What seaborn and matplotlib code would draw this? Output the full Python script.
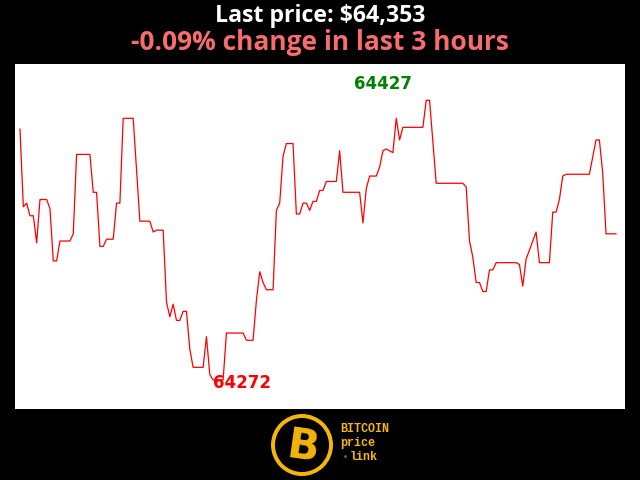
import matplotlib
matplotlib.use("Agg")
import matplotlib.pyplot as plt
import seaborn as sns
import pandas as pd
from matplotlib.patches import Circle

# ---- data (minute index, BTC price) ----
minutes = [0, 1, 2, 3, 4, 5, 6, 8, 9, 10, 11, 12, 15, 16, 17, 21, 22, 23, 24, 25,
           26, 28, 29, 30, 31, 34, 36, 39, 40, 41, 43, 44, 45, 46, 47, 48, 49, 50, 51, 52,
           55, 56, 57, 58, 61, 62, 67, 68, 70, 71, 72, 73, 74, 76, 77, 78, 79, 80, 82, 83,
           84, 85, 86, 87, 88, 89, 90, 91, 92, 95, 96, 97, 102, 103, 104, 105, 107, 108, 109, 110,
           112, 113, 114, 115, 121, 122, 123, 125, 133, 134, 135, 136, 137, 138, 139, 140, 141, 142, 143, 149,
           150, 151, 152, 153, 155, 156, 159, 160, 161, 162, 163, 164, 171, 173, 174, 175, 176, 179]
prices = [64411, 64368, 64370, 64363, 64363, 64348, 64372, 64372, 64367, 64338, 64338, 64349, 64349, 64353, 64397, 64397, 64376, 64376, 64346, 64346,
          64350, 64350, 64370, 64370, 64417, 64417, 64360, 64360, 64354, 64355, 64355, 64315, 64307, 64314, 64305, 64305, 64310, 64310, 64289, 64279,
          64279, 64296, 64275, 64272, 64272, 64298, 64298, 64294, 64294, 64316, 64332, 64326, 64322, 64322, 64366, 64370, 64396, 64403, 64403, 64364,
          64364, 64370, 64370, 64366, 64371, 64371, 64377, 64377, 64382, 64382, 64399, 64376, 64376, 64359, 64378, 64385, 64385, 64390, 64399, 64400,
          64398, 64417, 64405, 64412, 64412, 64427, 64427, 64381, 64381, 64379, 64349, 64340, 64326, 64326, 64321, 64321, 64333, 64333, 64337, 64337,
          64336, 64324, 64339, 64344, 64354, 64337, 64337, 64365, 64365, 64372, 64385, 64386, 64386, 64405, 64405, 64387, 64353, 64353]

title_text = "Last price: $64,353"
subtitle_text = "-0.09% change in last 3 hours"
logo_lines = ["BITCOIN", "price", "link"]

df = pd.DataFrame({"minute": minutes, "price": prices})

fig = plt.figure(figsize=(6.4, 4.8), dpi=100, facecolor="black")
ax = fig.add_axes([15/640, 71/480, 610/640, 345/480])
ax.set_facecolor("white")

sns.lineplot(data=df, x="minute", y="price", ax=ax, color="#ff0000", linewidth=0.9)

ax.set_xlim(-1.5, 181.7)
ax.set_ylim(64255.9, 64447.1)
ax.set_xticks([])
ax.set_yticks([])
ax.set_xlabel("")
ax.set_ylabel("")
for s in ax.spines.values():
    s.set_visible(False)

# max / min annotations
imax = prices.index(max(prices))
imin = prices.index(min(prices))
ax.annotate(str(max(prices)), xy=(minutes[imax], prices[imax]), xytext=(-31, 12),
            textcoords="offset points", ha="center", va="center",
            color="green", fontsize=12, fontweight="bold", family="DejaVu Sans")
ax.annotate(str(min(prices)), xy=(minutes[imin], prices[imin]), xytext=(0, -2),
            textcoords="offset points", ha="left", va="center",
            color="#ff0000", fontsize=12, fontweight="bold", family="DejaVu Sans")

# titles
fig.text(0.5, 1 - 16/480, title_text, ha="center", va="center", color="white",
         fontsize=16.7, fontweight="bold", family="Open Sans")
fig.text(0.5, 1 - 43/480, subtitle_text, ha="center", va="center", color="#f76c6c",
         fontsize=19, fontweight="bold", family="Open Sans")

# logo
lax = fig.add_axes([265/640, 0, 75/640, 68/480])
lax.set_xlim(265, 340)
lax.set_ylim(480, 412)
lax.axis("off")
gold = "#f4b50c"
lax.add_patch(Circle((302, 445), 31, fc=gold, ec="none"))
lax.add_patch(Circle((302, 445), 27, fc="black", ec="none"))
lax.text(303, 447, "B", ha="center", va="center", color=gold, fontsize=30,
         fontweight="bold", family="DejaVu Sans", rotation=-8)
lfont = dict(family="Liberation Mono", fontweight="bold", color=gold, fontsize=8.5,
             ha="left", va="center")
fig.text(340/640, 1 - 429/480, logo_lines[0], **lfont)
fig.text(340/640, 1 - 443/480, logo_lines[1], **lfont)
fig.text(345/640, 1 - 457/480, "\u2022", family="DejaVu Sans", color="#22aa22",
         fontsize=6, ha="center", va="center")
fig.text(350/640, 1 - 457/480, logo_lines[2], **lfont)

fig.savefig("out.png", dpi=100, facecolor="black")
